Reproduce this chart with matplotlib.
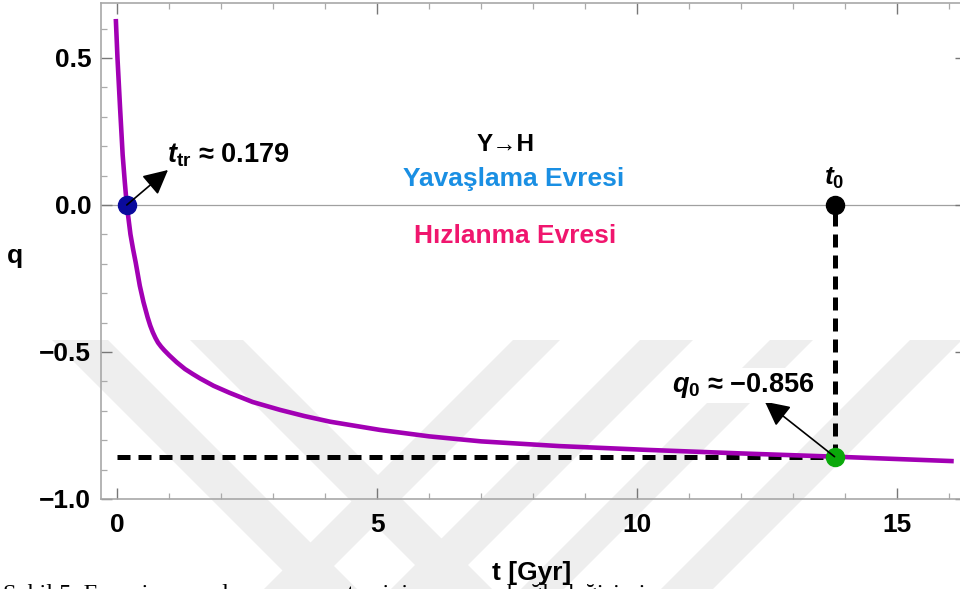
import matplotlib
matplotlib.use("Agg")
import matplotlib.pyplot as plt
from matplotlib.patches import Polygon
from matplotlib.ticker import MultipleLocator

plt.rcParams["font.family"] = ["Liberation Sans", "DejaVu Sans"]
plt.rcParams["font.weight"] = "bold"
plt.rcParams["mathtext.fontset"] = "custom"
plt.rcParams["mathtext.rm"] = "Liberation Sans:bold"
plt.rcParams["mathtext.it"] = "Liberation Sans:bold:italic"
plt.rcParams["mathtext.bf"] = "Liberation Sans:bold"

# deceleration parameter q against cosmic time t [Gyr]
t_gyr = [-0.03, 0.0, 0.05, 0.1, 0.14, 0.179, 0.25, 0.3, 0.35, 0.43, 0.5, 0.58,
         0.63, 0.68, 0.73, 0.78, 0.84, 0.9, 1.0, 1.14, 1.3, 1.45, 1.59, 1.85,
         2.16, 2.6, 3.13, 3.6, 4.09, 5.05, 6.0, 7.0, 8.5, 10.2, 12.0, 13.8, 16.05]
q_val = [0.625, 0.5, 0.33, 0.17, 0.08, 0.0, -0.1, -0.15, -0.195, -0.275, -0.33,
         -0.382, -0.41, -0.433, -0.452, -0.468, -0.482, -0.494, -0.512, -0.535,
         -0.558, -0.575, -0.59, -0.615, -0.639, -0.67, -0.697, -0.718, -0.737,
         -0.765, -0.787, -0.804, -0.82, -0.833, -0.845, -0.856, -0.871]

t_tr, q_tr = 0.179, 0.0        # deceleration -> acceleration transition
t_0, q_0 = 13.8, -0.856        # present day

x_major = [0, 5, 10, 15]
y_major = [-1.0, -0.5, 0.0, 0.5]

W, H = 960, 589
fig = plt.figure(figsize=(W / 100, H / 100), dpi=100)
fig.patch.set_facecolor("white")


def px(x, y):
    return (x / W, 1 - y / H)


# faint background stamp: diagonal bands
bands = [((52, 108), +1), ((190, 243), +1),
         ((513, 560), -1), ((640, 693), -1), ((770, 813), -1), ((910, 962), -1)]
y_top, y_bot = 340, 620
for (xa, xb), d in bands:
    s = d * (y_bot - y_top)
    poly = [px(xa, y_top), px(xb, y_top), px(xb + s, y_bot), px(xa + s, y_bot)]
    fig.patches.append(Polygon(poly, closed=True, transform=fig.transFigure,
                               fc="#eeeeee", ec="none", zorder=-1))

ax = fig.add_axes([101 / W, 1 - 499 / H, (966 - 101) / W, 496 / H])
ax.set_zorder(1)
ax.set_facecolor("none")
ax.set_xlim(-0.317, 16.33)
ax.set_ylim(-1.0, 0.687)

ax.axhline(0, color="#a0a0a0", lw=0.9, zorder=1)

dash = (0, (2.6, 1.6))
ax.plot([0, t_0], [q_0, q_0], color="black", lw=3.6, ls=dash, zorder=2)
ax.plot([t_0, t_0], [q_0, 0], color="black", lw=3.6, ls=dash, zorder=2)

ax.plot(t_gyr, q_val, color="#a200b4", lw=3.3, solid_joinstyle="round", zorder=3)

ax.plot(t_tr, q_tr, "o", ms=13, color="#0a0a9c", zorder=4)
ax.plot(t_0, q_0, "o", ms=13, color="#0aa80a", zorder=4)
ax.plot(t_0, 0, "o", ms=13, color="black", zorder=4)

arrow = dict(arrowstyle="-|>,head_length=0.75,head_width=0.38", color="black",
             lw=1.2, shrinkA=0, shrinkB=0, mutation_scale=20)
ax.annotate("", xy=(0.972, 0.119), xytext=(t_tr, q_tr), arrowprops=arrow, zorder=5)
ax.annotate("", xy=(12.46, -0.669), xytext=(t_0, q_0), arrowprops=arrow, zorder=5)

ax.text(0.952, 0.146, r"$t_{\mathrm{tr}}$ ≈ 0.179", fontsize=19.5, va="baseline", ha="left")
ax.text(10.67, -0.636, r"$q_0$ ≈ −0.856", fontsize=19.5, va="baseline", ha="left",
        bbox=dict(boxstyle="square,pad=0.12", fc="white", ec="none"), zorder=5)
ax.text(t_0, 0.068, r"$t_0$", fontsize=19, va="baseline", ha="center")

ax.text(7.46, 0.185, "Y→H", fontsize=17.5, va="baseline", ha="center", color="black")
ax.text(7.62, 0.065, "Yavaşlama Evresi", fontsize=19, va="baseline", ha="center",
        color="#1a8fe3")
ax.text(7.66, -0.128, "Hızlanma Evresi", fontsize=19, va="baseline", ha="center",
        color="#f0166e")

ax.set_xticks(x_major)
ax.set_yticks(y_major)
ax.set_yticklabels([f"{v:.1f}".replace("-", "−") for v in y_major])
ax.xaxis.set_minor_locator(MultipleLocator(1))
ax.yaxis.set_minor_locator(MultipleLocator(0.1))
ax.tick_params(which="both", direction="in", top=True, right=True, colors="#777777",
               labelcolor="black", labelsize=19)
ax.tick_params(which="major", length=8, width=1.0)
ax.tick_params(which="minor", length=4.5, width=0.9, colors="#aaaaaa")
ax.tick_params(axis="x", pad=10)
ax.tick_params(axis="y", pad=7)
for sp in ax.spines.values():
    sp.set_color("#a8a8a8")
    sp.set_linewidth(1.2)

fig.text(14.5 / W, 1 - 256 / H, "q", fontsize=19, ha="center", va="center")
fig.text(532 / W, 1 - 580 / H, "t [Gyr]", fontsize=19, ha="center", va="baseline")

# caption line of the page, cut by the lower edge
fig.text(3 / W, 1 - 600 / H, "Şekil 5. Evrenin yavaşlama parametresinin zamana bağlı değişimi",
         family=["Liberation Serif", "DejaVu Serif"], fontweight="normal", fontsize=17.5,
         ha="left", va="baseline")

fig.savefig("out.png", dpi=100, facecolor="white")
